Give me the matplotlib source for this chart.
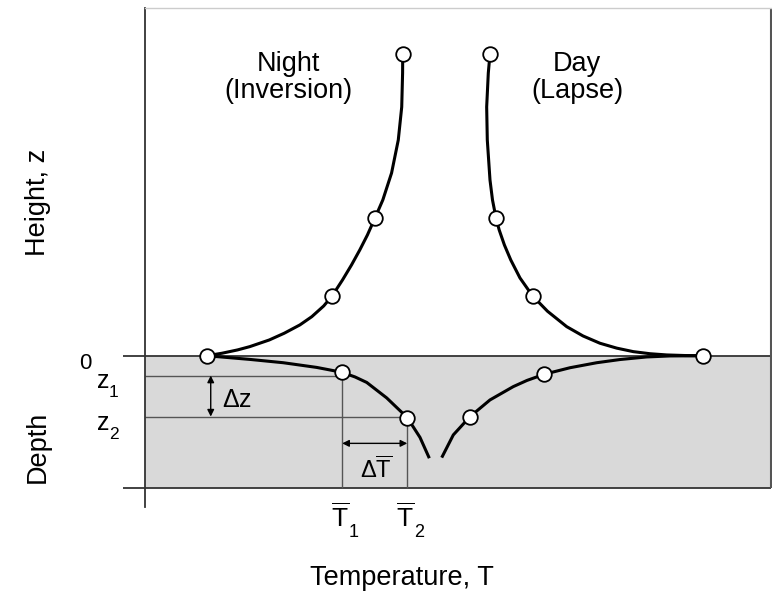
import matplotlib
matplotlib.use("Agg")
import matplotlib.pyplot as plt

plt.rcParams['font.family'] = ['Liberation Sans', 'DejaVu Sans']
plt.rcParams['mathtext.fontset'] = 'custom'
plt.rcParams['mathtext.rm'] = 'Liberation Sans'
plt.rcParams['mathtext.it'] = 'Liberation Sans'

# profiles: T in arbitrary units, z > 0 is height, z < 0 is depth
night_air_T = [41.17, 41.15, 41.01, 40.46, 39.39, 37.99, 36.74, 35.53, 34.31, 32.99, 31.55, 29.89,
               28.55, 26.65, 24.74, 22.24, 19.86, 16.74, 14.78, 12.30, 9.86]
night_air_z = [86.77, 81.31, 71.54, 62.05, 52.56, 44.80, 39.62, 34.73, 30.42, 26.11, 21.79, 17.19,
               14.32, 11.24, 8.86, 6.47, 4.54, 2.62, 1.67, 0.72, 0.0]
night_soil_T = [9.86, 16.77, 22.09, 27.43, 31.42, 33.55, 35.42, 38.61, 41.90, 43.93, 45.42]
night_soil_z = [0.0, -1.06, -2.01, -3.36, -4.74, -6.10, -7.68, -12.13, -17.80, -23.49, -29.47]
night_obs_T = [41.17, 36.74, 29.89, 9.86, 31.42, 41.90]
night_obs_z = [86.77, 39.62, 17.19, 0.0, -4.74, -17.80]

day_air_T = [55.11, 54.84, 54.58, 54.68, 55.11, 55.51, 56.07, 56.58, 57.41, 58.43, 59.90, 61.92,
             64.30, 67.36, 69.97, 72.68, 75.35, 78.00, 80.67, 83.34, 86.26, 89.19]
day_air_z = [86.77, 81.31, 71.54, 62.05, 50.55, 44.80, 39.62, 36.17, 31.86, 27.54, 22.37, 17.19,
             12.79, 8.37, 5.69, 3.59, 2.19, 1.18, 0.58, 0.23, 0.06, 0.0]
day_soil_T = [89.19, 83.87, 80.14, 75.88, 72.16, 67.89, 63.79, 61.02, 58.83, 55.11, 51.92, 49.25, 47.40]
day_soil_z = [0.0, -0.06, -0.35, -1.09, -2.01, -3.45, -5.32, -7.10, -8.88, -12.71, -17.51, -22.77, -29.30]
day_obs_T = [55.11, 56.07, 61.92, 89.19, 63.79, 51.92]
day_obs_z = [86.77, 39.62, 17.19, 0.0, -5.32, -17.51]

z_levels = [-5.7, -17.5]      # z1, z2
T_means = [31.5, 41.9]        # mean T at z1, z2
soil_bottom = -38
sub_labels = ['1', '2']

fig = plt.figure(figsize=(7.72, 5.93), dpi=100)
ax = fig.add_axes([145 / 772, 86 / 593, 626 / 772, 499 / 593])
ax.set_xlim(0, 100)
ax.set_ylim(-43.5, 100)
ax.set_xticks([])
ax.set_yticks([])
for s in ['right', 'bottom']:
    ax.spines[s].set_visible(False)
ax.spines['left'].set_color('#333333')
ax.spines['left'].set_linewidth(1.3)
ax.spines['top'].set_color('#cccccc')
ax.spines['top'].set_linewidth(1.0)

# soil layer
ax.fill_between([0, 100], soil_bottom, 0, color='#d9d9d9', lw=0, zorder=0)
ax.hlines([0, soil_bottom], -3.5, 100, color='#333333', lw=1.3, clip_on=False, zorder=1)
ax.vlines(100, soil_bottom, 100, color='#555555', lw=1.5, clip_on=False)

# reference lines for the gradient
ax.hlines(z_levels, 0, T_means, color='#555555', lw=1.0, zorder=1)
ax.vlines(T_means, z_levels, soil_bottom, color='#555555', lw=1.0, zorder=1)

arrow = dict(arrowstyle='<|-|>', color='black', lw=1.0, shrinkA=0, shrinkB=0, mutation_scale=10)
ax.annotate('', xy=(10.5, z_levels[1]), xytext=(10.5, z_levels[0]), arrowprops=arrow)
ax.annotate('', xy=(T_means[1], -25.2), xytext=(T_means[0], -25.2), arrowprops=arrow)

# profiles
for T, z in [(night_air_T, night_air_z), (night_soil_T, night_soil_z),
             (day_air_T, day_air_z), (day_soil_T, day_soil_z)]:
    ax.plot(T, z, color='black', lw=2.2, solid_capstyle='butt', solid_joinstyle='round', zorder=3)
for T, z in [(night_obs_T, night_obs_z), (day_obs_T, day_obs_z)]:
    ax.plot(T, z, 'o', ms=10.5, mfc='white', mec='black', mew=1.3, zorder=5, clip_on=False)

# labels
ax.text(22.9, 80.1, 'Night\n(Inversion)', ha='center', va='center', fontsize=19.5, linespacing=1.05)
ax.text(69.0, 80.1, 'Day\n(Lapse)', ha='center', va='center', fontsize=19.5, linespacing=1.05)
ax.text(-17.1, 44.1, 'Height, z', rotation=90, ha='center', va='center', fontsize=19.5)
ax.text(-17.1, -26.1, 'Depth', rotation=90, ha='center', va='center', fontsize=19.5)
ax.text(41.1, -66.0, 'Temperature, T', ha='center', va='baseline', fontsize=19.5)
ax.text(-9.6, -2.3, '0', ha='center', va='center', fontsize=16)

# z1, z2 with subscripts
for zb, sub in zip([-9.2, -21.3], sub_labels):
    ax.text(-7.7, zb, 'z', ha='left', va='baseline', fontsize=18)
    ax.text(-5.8, zb - 2.6, sub, ha='left', va='baseline', fontsize=12.5)

# T1, T2 (mean temperatures) below the soil layer
for Tm, sub in zip(T_means, sub_labels):
    ax.text(Tm - 0.3, -49.2, r'$\overline{\mathrm{T}}$', ha='center', va='baseline', fontsize=19)
    ax.text(Tm + 1.1, -52.1, sub, ha='left', va='baseline', fontsize=13)

ax.text(12.3, -14.6, r'$\Delta\mathrm{z}$', ha='left', va='baseline', fontsize=18)
ax.text(36.9, -35.2, r'$\Delta\overline{\mathrm{T}}$', ha='center', va='baseline', fontsize=17)

fig.savefig('out.png', dpi=100)
